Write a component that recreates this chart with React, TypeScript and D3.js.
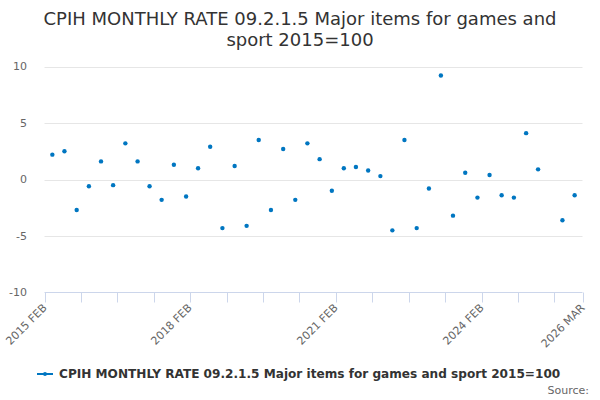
import React from "react";
import * as d3 from "d3";

const TITLE_LINES = ["CPIH MONTHLY RATE 09.2.1.5 Major items for games and", "sport 2015=100"];
const SERIES_NAME = "CPIH MONTHLY RATE 09.2.1.5 Major items for games and sport 2015=100";

const periods = [
  "2015 APR", "2015 JUL", "2015 OCT", "2016 JAN", "2016 APR", "2016 JUL", "2016 OCT",
  "2017 JAN", "2017 APR", "2017 JUL", "2017 OCT", "2018 JAN", "2018 APR", "2018 JUL",
  "2018 OCT", "2019 JAN", "2019 APR", "2019 JUL", "2019 OCT", "2020 JAN", "2020 APR",
  "2020 JUL", "2020 OCT", "2021 JAN", "2021 APR", "2021 JUL", "2021 OCT", "2022 JAN",
  "2022 APR", "2022 JUL", "2022 OCT", "2023 JAN", "2023 APR", "2023 JUL", "2023 OCT",
  "2024 JAN", "2024 APR", "2024 JUL", "2024 OCT", "2025 JAN", "2025 APR", "2025 JUL",
  "2025 OCT", "2026 JAN",
];

const values: (number | null)[] = [
  2.2, 2.5, -2.7, -0.6, 1.6, -0.5, 3.2,
  1.6, -0.6, -1.8, 1.3, -1.5, 1.0, 2.9,
  -4.3, 1.2, -4.1, 3.5, -2.7, 2.7, -1.8,
  3.2, 1.8, -1.0, 1.0, 1.1, 0.8, 0.3,
  -4.5, 3.5, -4.3, -0.8, 9.2, -3.2, 0.6,
  -1.6, 0.4, -1.4, -1.6, 4.1, 0.9, null,
  -3.6, -1.4,
];

const axisStart = "2015 FEB";
const axisEnd = "2026 MAR";
const labelledTicks = ["2015 FEB", "2018 FEB", "2021 FEB", "2024 FEB", "2026 MAR"];
const yTicks = [-10, -5, 0, 5, 10];

const BLUE = "#0076c1";
const FONT = "'DejaVu Sans', sans-serif";

const parse = d3.timeParse("%Y %b");

export default function App() {
  const W = 600;
  const H = 400;
  const left = 44.5;
  const right = 582.5;
  const top = 66.5;
  const bottom = 292.5;

  const start = parse(axisStart)!;
  const end = parse(axisEnd)!;

  const x = d3.scaleTime().domain([start, end]).range([left, right]);
  const y = d3.scaleLinear().domain([-10, 10]).range([bottom, top]);

  // tick every 9 months, plus the closing tick
  const ticks = d3.timeMonth.range(start, end, 9);
  ticks.push(end);
  const fmt = (d: Date) => d3.timeFormat("%Y %b")(d).toUpperCase();
  const labelSet = new Set(labelledTicks);

  const points = periods
    .map((p, i) => ({ date: parse(p)!, v: values[i] }))
    .filter((d) => d.v !== null);

  return (
    <svg
      width={W}
      height={H}
      style={{ position: "absolute", left: 0, top: 0, display: "block", fontFamily: FONT }}
    >
      <rect width={W} height={H} fill="#fff" />
      {TITLE_LINES.map((t, i) => (
        <text key={t} x={W / 2} y={25 + i * 21} textAnchor="middle" fontSize={18} fill="#333">
          {t}
        </text>
      ))}

      {yTicks.map((t) => (
        <g key={t}>
          {t !== -10 && (
            <line x1={left} x2={right} y1={Math.round(y(t)) + 0.5} y2={Math.round(y(t)) + 0.5} stroke="#e6e6e6" />
          )}
          <text x={27} y={y(t)} dy="0.35em" textAnchor="end" fontSize={11} fill="#666">
            {t}
          </text>
        </g>
      ))}

      <line x1={left} x2={right} y1={bottom} y2={bottom} stroke="#ccd6eb" />
      {ticks.map((d, i) => {
        const tx = Math.round(x(d)) + 0.5;
        const lab = fmt(d);
        return (
          <g key={i}>
            <line x1={tx} x2={tx} y1={bottom} y2={bottom + 10} stroke="#ccd6eb" />
            {labelSet.has(lab) && (
              <text
                transform={`translate(${tx + 2},${bottom + 16})rotate(-45)`}
                textAnchor="end"
                fontSize={11}
                fill="#666"
              >
                {lab}
              </text>
            )}
          </g>
        );
      })}

      {points.map((d, i) => (
        <circle key={i} cx={x(d.date)} cy={y(d.v as number)} r={2.2} fill={BLUE} />
      ))}

      <g>
        <line x1={37} x2={53} y1={374} y2={374} stroke={BLUE} strokeWidth={2} />
        <circle cx={45} cy={374} r={2} fill={BLUE} />
        <text x={59} y={378} fontSize={12.1} fontWeight="bold" fill="#333">
          {SERIES_NAME}
        </text>
      </g>
      <text x={589} y={394} textAnchor="end" fontSize={11} fill="#666">
        Source:
      </text>
    </svg>
  );
}
